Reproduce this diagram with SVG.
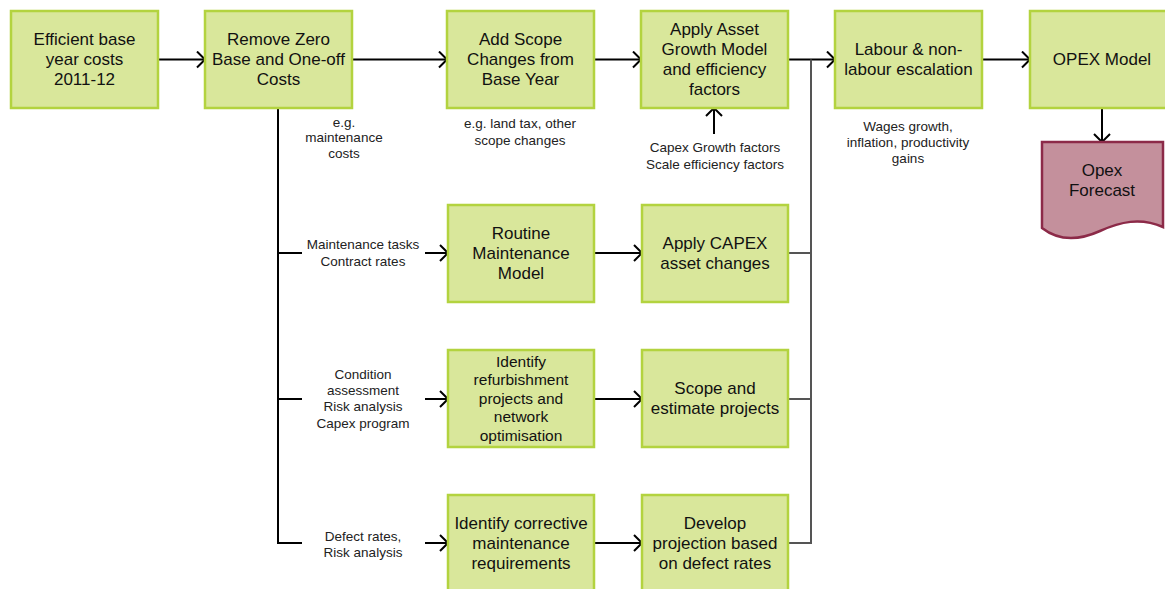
<svg xmlns="http://www.w3.org/2000/svg" width="1165" height="589" viewBox="0 0 1165 589">
<style>
.box{fill:#D9E79B;stroke:#B3D33F;stroke-width:2.5}
.doc{fill:#C4909C;stroke:#8C2A48;stroke-width:2.5}
.t{font-family:"Liberation Sans",Arial,sans-serif;font-size:17px;fill:#111;text-anchor:middle}
.tm{font-family:"Liberation Sans",Arial,sans-serif;font-size:15.5px;fill:#111;text-anchor:middle}
.s{font-family:"Liberation Sans",Arial,sans-serif;font-size:13.5px;fill:#222;text-anchor:middle}
.ln{fill:none;stroke:#000;stroke-width:2}
.gl{fill:none;stroke:#555;stroke-width:2}
.ar{fill:none;stroke:#000;stroke-width:2;marker-end:url(#ah)}
</style>
<defs>
<marker id="ah" viewBox="0 0 10 18" refX="9" refY="9" markerWidth="10" markerHeight="18" markerUnits="userSpaceOnUse" orient="auto">
<path d="M1,1 L9,9 L1,17" fill="none" stroke="#000" stroke-width="2"/>
</marker>
</defs>
<rect width="1165" height="589" fill="#fff"/>
<g id="connectors">
<line class="ar" x1="158" y1="59.5" x2="205" y2="59.5"/>
<line class="ar" x1="352" y1="59.5" x2="447" y2="59.5"/>
<line class="ar" x1="594" y1="59.5" x2="641" y2="59.5"/>
<line class="ar" x1="788" y1="59.5" x2="835" y2="59.5"/>
<line class="ar" x1="983" y1="59.5" x2="1030" y2="59.5"/>
<line class="ar" x1="1102" y1="108" x2="1102" y2="142"/>
<line class="ar" x1="714" y1="134" x2="714" y2="108"/>
<polyline class="ln" points="278,108 278,543 302,543"/>
<line class="ln" x1="278" y1="253" x2="302" y2="253"/>
<line class="ln" x1="278" y1="399" x2="302" y2="399"/>
<line class="ar" x1="425" y1="253" x2="448" y2="253"/>
<line class="ar" x1="425" y1="399" x2="448" y2="399"/>
<line class="ar" x1="425" y1="543" x2="448" y2="543"/>
<line class="ar" x1="594" y1="253" x2="642" y2="253"/>
<line class="ar" x1="594" y1="399" x2="642" y2="399"/>
<line class="ar" x1="594" y1="543" x2="642" y2="543"/>
<polyline class="gl" points="811,59.5 811,543 788,543"/>
<line class="gl" x1="788" y1="253" x2="811" y2="253"/>
<line class="gl" x1="788" y1="399" x2="811" y2="399"/>
</g>
<g id="n-efficient">
<rect class="box" x="11" y="11" width="147" height="97"/>
<text class="t" x="84.5" y="45">Efficient base</text>
<text class="t" x="84.5" y="65">year costs</text>
<text class="t" x="84.5" y="85">2011-12</text>
</g>
<g id="n-remove">
<rect class="box" x="205" y="11" width="147" height="97"/>
<text class="t" x="278.5" y="45">Remove Zero</text>
<text class="t" x="278.5" y="65">Base and One-off</text>
<text class="t" x="278.5" y="85">Costs</text>
</g>
<g id="n-scope">
<rect class="box" x="447" y="11" width="147" height="97"/>
<text class="t" x="520.5" y="45">Add Scope</text>
<text class="t" x="520.5" y="65">Changes from</text>
<text class="t" x="520.5" y="85">Base Year</text>
</g>
<g id="n-growth">
<rect class="box" x="641" y="11" width="147" height="97"/>
<text class="t" x="714.5" y="35">Apply Asset</text>
<text class="t" x="714.5" y="55">Growth Model</text>
<text class="t" x="714.5" y="75">and efficiency</text>
<text class="t" x="714.5" y="95">factors</text>
</g>
<g id="n-labour">
<rect class="box" x="835" y="11" width="147" height="97"/>
<text class="t" x="908.5" y="55">Labour &amp; non-</text>
<text class="t" x="908.5" y="75">labour escalation</text>
</g>
<g id="n-opex">
<rect class="box" x="1030" y="11" width="147" height="97"/>
<text class="t" x="1102" y="65">OPEX Model</text>
</g>
<g id="n-forecast">
<path class="doc" d="M1042,142 H1163 V227 C1140,217 1120,222 1100,231 C1080,240 1060,242 1042,228 Z"/>
<text class="t" x="1102" y="176">Opex</text>
<text class="t" x="1102" y="196">Forecast</text>
</g>
<g id="n-routine">
<rect class="box" x="448" y="205" width="146" height="97"/>
<text class="t" x="521" y="239">Routine</text>
<text class="t" x="521" y="259">Maintenance</text>
<text class="t" x="521" y="279">Model</text>
</g>
<g id="n-capex">
<rect class="box" x="642" y="205" width="146" height="97"/>
<text class="t" x="715" y="249">Apply CAPEX</text>
<text class="t" x="715" y="269">asset changes</text>
</g>
<g id="n-refurb">
<rect class="box" x="448" y="350" width="146" height="97"/>
<text class="tm" x="521" y="366.5">Identify</text>
<text class="tm" x="521" y="385">refurbishment</text>
<text class="tm" x="521" y="403.5">projects and</text>
<text class="tm" x="521" y="422">network</text>
<text class="tm" x="521" y="440.5">optimisation</text>
</g>
<g id="n-estimate">
<rect class="box" x="642" y="350" width="146" height="97"/>
<text class="t" x="715" y="394">Scope and</text>
<text class="t" x="715" y="414">estimate projects</text>
</g>
<g id="n-corrective">
<rect class="box" x="448" y="495" width="146" height="97"/>
<text class="t" x="521" y="529">Identify corrective</text>
<text class="t" x="521" y="549">maintenance</text>
<text class="t" x="521" y="569">requirements</text>
</g>
<g id="n-defect">
<rect class="box" x="642" y="495" width="146" height="97"/>
<text class="t" x="715" y="529">Develop</text>
<text class="t" x="715" y="549">projection based</text>
<text class="t" x="715" y="569">on defect rates</text>
</g>
<g id="labels">
<text class="s" x="344" y="127">e.g.</text>
<text class="s" x="344" y="142">maintenance</text>
<text class="s" x="344" y="158">costs</text>
<text class="s" x="520" y="128">e.g. land tax, other</text>
<text class="s" x="520" y="145">scope changes</text>
<text class="s" x="715" y="152">Capex Growth factors</text>
<text class="s" x="715" y="169">Scale efficiency factors</text>
<text class="s" x="908" y="131">Wages growth,</text>
<text class="s" x="908" y="147">inflation, productivity</text>
<text class="s" x="908" y="163">gains</text>
<text class="s" x="363" y="249">Maintenance tasks</text>
<text class="s" x="363" y="266">Contract rates</text>
<text class="s" x="363" y="379">Condition</text>
<text class="s" x="363" y="395">assessment</text>
<text class="s" x="363" y="411">Risk analysis</text>
<text class="s" x="363" y="428">Capex program</text>
<text class="s" x="363" y="541">Defect rates,</text>
<text class="s" x="363" y="557">Risk analysis</text>
</g>
</svg>
